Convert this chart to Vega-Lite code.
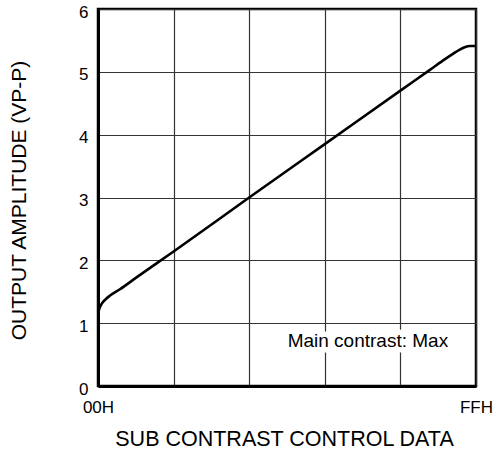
{
  "$schema": "https://vega.github.io/schema/vega-lite/v6.json",
  "width": 378,
  "height": 377,
  "autosize": "none",
  "padding": {"left": 98, "top": 9, "right": 20, "bottom": 73},
  "background": "white",
  "config": {
    "font": "Liberation Sans",
    "view": {"stroke": "black", "strokeWidth": 2.5},
    "axis": {
      "domainColor": "black",
      "domainWidth": 3,
      "gridColor": "#333333",
      "gridWidth": 1.2,
      "gridOpacity": 1,
      "ticks": false,
      "labelFont": "Liberation Sans",
      "labelFontSize": 17,
      "labelColor": "black",
      "titleFont": "Liberation Sans",
      "titleFontWeight": "normal",
      "titleColor": "black"
    }
  },
  "datasets": {
    "curve": [
      {"data": 0, "amp": 1.15},
      {"data": 0.02, "amp": 1.24},
      {"data": 0.05, "amp": 1.31},
      {"data": 0.1, "amp": 1.38},
      {"data": 0.16, "amp": 1.44},
      {"data": 0.29, "amp": 1.54},
      {"data": 0.5, "amp": 1.72},
      {"data": 1, "amp": 2.14},
      {"data": 2, "amp": 3.0},
      {"data": 3, "amp": 3.85},
      {"data": 4, "amp": 4.7},
      {"data": 4.4, "amp": 5.04},
      {"data": 4.6, "amp": 5.21},
      {"data": 4.7, "amp": 5.29},
      {"data": 4.78, "amp": 5.35},
      {"data": 4.85, "amp": 5.39},
      {"data": 4.92, "amp": 5.41},
      {"data": 5, "amp": 5.41}
    ],
    "note": [
      {"data": 3.57, "amp": 0.62, "label": "Main contrast: Max"}
    ]
  },
  "encoding": {
    "x": {
      "field": "data",
      "type": "quantitative",
      "scale": {"domain": [0, 5], "nice": false, "zero": false},
      "axis": {
        "title": "SUB CONTRAST CONTROL DATA",
        "titleFontSize": 21.5,
        "values": [0, 1, 2, 3, 4, 5],
        "labelExpr": "datum.value == 0 ? '00H' : (datum.value == 5 ? 'FFH' : '')",
        "labelFlush": false,
        "labelPadding": 13,
        "labelAlign": "center",
        "titleX": 186,
        "titleY": 59,
        "titleBaseline": "alphabetic",
        "titleAlign": "center"
      }
    },
    "y": {
      "field": "amp",
      "type": "quantitative",
      "scale": {"domain": [0, 6], "nice": false},
      "axis": {
        "title": "OUTPUT AMPLITUDE (VP-P)",
        "titleFontSize": 21,
        "values": [0, 1, 2, 3, 4, 5, 6],
        "labelPadding": 10,
        "labelOffset": 3,
        "titleX": -79,
        "titleY": 191,
        "titleAngle": 270,
        "titleAlign": "center",
        "titleBaseline": "middle"
      }
    }
  },
  "layer": [
    {
      "data": {"name": "curve"},
      "mark": {"type": "line", "color": "black", "strokeWidth": 2.6, "interpolate": "monotone", "clip": true}
    },
    {
      "data": {"name": "note"},
      "mark": {"type": "text", "font": "Liberation Sans", "fontSize": 19, "align": "center", "baseline": "alphabetic", "fill": "white", "stroke": "white", "strokeWidth": 11, "strokeJoin": "round"},
      "encoding": {"text": {"field": "label"}}
    },
    {
      "data": {"name": "note"},
      "mark": {"type": "text", "font": "Liberation Sans", "fontSize": 19, "align": "center", "baseline": "alphabetic", "color": "black"},
      "encoding": {"text": {"field": "label"}}
    }
  ]
}
